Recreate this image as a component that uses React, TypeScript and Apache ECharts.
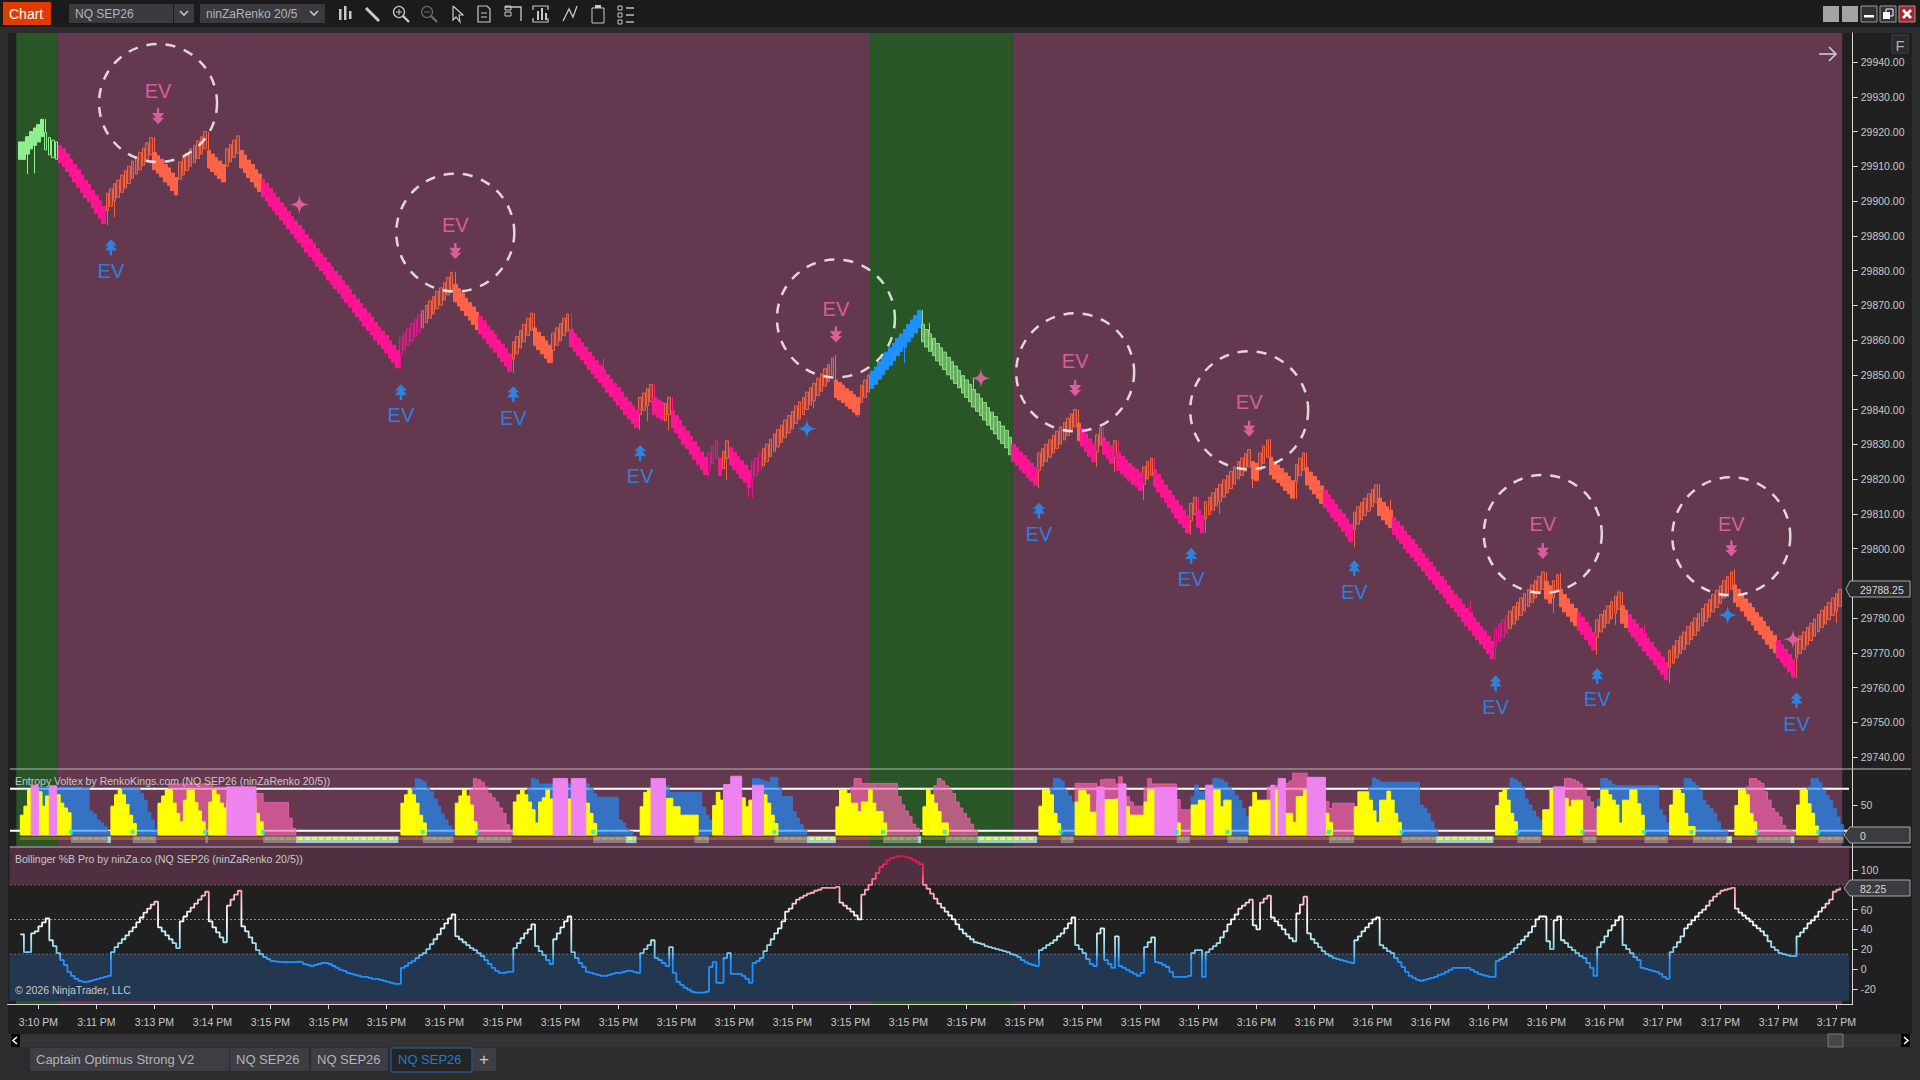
import React, { useEffect, useRef } from "react";
import * as echarts from "echarts";

const FONT = '"Liberation Sans"';
const PAD = 3;
const CAT_COUNT = 509;
const BAR = 3.625;
const priceBase = 29700;

const tickLabels = ["3:10 PM","3:11 PM","3:13 PM","3:14 PM","3:15 PM","3:15 PM","3:15 PM","3:15 PM","3:15 PM","3:15 PM","3:15 PM","3:15 PM","3:15 PM","3:15 PM","3:15 PM","3:15 PM","3:15 PM","3:15 PM","3:15 PM","3:15 PM","3:15 PM","3:16 PM","3:16 PM","3:16 PM","3:16 PM","3:16 PM","3:16 PM","3:16 PM","3:17 PM","3:17 PM","3:17 PM","3:17 PM"];
const priceTicks = [29740,29750,29760,29770,29780,29790,29800,29810,29820,29830,29840,29850,29860,29870,29880,29890,29900,29910,29920,29930,29940];
// 29790 sits under the last-price tag, so its label is not shown
const priceLabels = [29740,29750,29760,29770,29780,29800,29810,29820,29830,29840,29850,29860,29870,29880,29890,29900,29910,29920,29930,29940];

// Closing price of every bar, above priceBase
const closes = [
217,217,218.5,220,221,222,223.5, 214.75,213.25,212.5,212,
211,210,208.5,207,205.5,204,202.5,201,199.75,198,196.5,195,193.5,
202.25,203.5,205,206,207.5,208.75,210,211.5,212.75,214,215.25,216.75,218.25,
209,208,207,205.5,204.5,203,201.75, 211.25,212.5,213.75,215,216,217.25,218.5,220,
209.5,208.5,207.5,206.5,205.5, 215,216.25,217.5,218.75, 209.5,208.25,206.75,205.5,204,202.75,
201.25,200,198.5,197.25,196,194.5,193.25,192,190.5,189.25,188,186.75,185.25,184,182.75,181.25,180,178.75,177.25,176,174.75,173.5,172,170.75,169.5,168,166.75,165.5,164,162.75,161.5,160,158.75,157.5,156.25,154.75,153.5,152,
160.75,162,163.5,164.75,166,167.25,168.5,170,171.25,172.5,174,175,176.5,178,179.5,
171,169.75,168.5,167,165.75,164.5,163,161.75,160.5,159,157.75,156.5,155,153.75,152.5,151,
159.5,161,162.75,164.5,166.25,167.75, 158.5,157.25,156,154.75,153.5, 162,163.5,164.75,166.25,167.5,
158,156.75,155.5,154.25,153,151.5,150.25,149,147.75,146.5,145,143.75,142.5,141.25,140,138.5,137.25,136,134.75,
143.5,144.75,146,147.25, 138.5,137.75,137, 141.75,143.5,
134.75,133.25,131.75,130,128.75,127.25,125.75,124.25,122.75,121.25,
127.5,129.5,131, 121, 128,131, 124,122.75,121.5,120.25,119,117.5,
125,126,127.5,128.75,130,131.5,133,134.25,135.5,137,138.25,139.5,141,142.25,143.5,145,146.25,147.5,149,150.25,151.75,153,154.75,
143.5,142.75,142,141,140.25,139.25,138.5, 147,148.5,150,
151,152.25,153.75,155,156.5,157.75,159,160.5,161.75,163,164.5,165.75,167,168.5,
159.5,158,156.75,155.5,154,152.75,151.5,150,148.75,147.5,146.25,144.75,143.5,142.25,140.75,139.5,138.25,137,135.5,134.25,133,131.5,130.25,129,127,
125,124,122.75,121.75,120.5,119.5,118.25,
127.5,128.75,130,131.25,132.5,133.75,135,136.25,137.5,138.75,140,
131,129.5,128,126.5,125, 132.75,134.75, 127,125.75,124.5, 131,
122.5,121.5,120.5,119.5,118.5,117.75,116.75, 123.5,125,126,
117.75,116.25,114.75,113.25,111.75,110.25,108.75,107.25,106,104.5, 113,114.75, 106,104.5,
113.5,114.75,116,117.25,118.5,119.75,121,122.25,123.5,125,126,127.25,128.5, 120,119.5, 127.5,129.5,131.25,
121.25,120,119,118,116.75,115.75,114.5, 124.25,126,127.5,
118.25,117,115.75,114.5,113,111.75,110.5,109,107.75,106.25,105,103.5,102,
110.5,112,113.25,114.5,115.75,117,118.25, 109.5,108.25,107,106,
104,102.75,101.5,100,98.75,97.5,96.25,95,93.5,92.25,91,89.75,88.25,87,85.75,84.25,83,81.75,80.5,79,77.75,76.5,75,73.75,72.5,71.25,69.75,68.25,
77,78.25,79.5,80.75,82,83.25,84.5,85.75,87,88.25,89.5,90.75,92,93.25, 85.5,84.25, 90.75,92.5,
83.25,81.75,80.5,79,77.75,76.5,75.25,73.75,72.25,70.75, 79.5,81,82.25,83.5,84.75,86.25,87.5,
78.5,77.25,76,74.5,73.25,72,70.5,69.25,68,66.5,65.25,63.75,62.25,
70.75,72,73.5,74.75,76,77.5,78.75,80,81.25,82.75,84,85.25,86.75,88,89.25,90.75,92,93.25,
84.5,83.25,82,80.5,79.25,78,76.5,75.25,74,72.5,71.25,70,68.5,67.25,66,64.5,63,
73.5,74.75,76,77.25,78.5,79.75,81,82.25,83.25,84.5,85.75,87,88.25,
];
const bodySize = 5;

// [first bar, kind]
const barKinds: [number, string][] = [[0,"greenUp"],[7,"greenHollow"],[11,"pink"],[24,"orangeHollow"],[37,"orange"],[44,"orangeHollow"],[52,"orange"],[57,"orangeHollow"],[61,"orange"],[67,"pink"],[105,"pinkHollow"],[111,"orangeHollow"],[120,"orange"],[127,"pink"],[136,"orangeHollow"],[142,"orange"],[147,"orangeHollow"],[152,"pink"],[171,"orangeHollow"],[175,"pink"],[178,"orangeHollow"],[180,"pink"],[190,"pinkHollow"],[193,"pink"],[194,"orangeHollow"],[196,"pink"],[202,"pinkHollow"],[205,"orangeHollow"],[225,"orange"],[232,"orangeHollow"],[235,"blue"],[249,"greenDown"],[274,"pink"],[281,"orangeHollow"],[292,"orange"],[293,"pink"],[297,"orangeHollow"],[299,"pink"],[302,"orangeHollow"],[303,"pink"],[310,"orangeHollow"],[313,"pink"],[323,"orangeHollow"],[325,"pink"],[327,"orangeHollow"],[340,"orange"],[342,"orangeHollow"],[345,"orange"],[352,"orangeHollow"],[355,"orange"],[360,"pink"],[368,"orangeHollow"],[375,"orange"],[379,"pink"],[407,"pinkHollow"],[411,"orangeHollow"],[421,"orange"],[423,"orangeHollow"],[425,"orange"],[430,"pink"],[435,"orangeHollow"],[442,"orange"],[444,"pink"],[455,"orangeHollow"],[473,"orange"],[485,"pink"],[490,"orangeHollow"]];

// [bar, wick end, above priceBase]
const highWicks: [number, number][] = [[7,223.6],[37,218.4],[52,219.9],[60,218.8],[120,179.6],[142,167.8],[152,167.7],[161,154.8],[175,147.3],[180,143.6],[225,155.7],[249,168.6],[251,164.9],[263,149],[292,140],[299,135],[303,131],[313,126],[325,114.8],[345,131.5],[355,127.5],[375,118.6],[378,114],[400,84.9],[421,93.2],[425,93],[442,87.5],[448,78],[473,94]];
const lowWicks: [number, number][] = [[2,207.8],[4,208],[24,193],[26,195.4],[105,151.7],[136,150.5],[147,153.4],[171,134],[173,136.7],[179,134],[190,120.6],[195,119.7],[201,114.8],[202,114.5],[219,140.4],[231,137.8],[244,153.4],[281,117.4],[297,123.4],[302,122],[310,114],[323,103.9],[327,104.5],[331,110],[340,117.4],[352,114.2],[368,100.4],[407,67.9],[423,81.4],[435,69.4],[440,78],[455,61.3],[490,62.7],[501,78.6]];

// EV events
const evHighBars = [38,120,225,291,339,420,472];
const evCirclePrice = [29928.2,29890.9,29866.2,29850.7,29839.8,29804.2,29803.5];
const evHighText = [29931.8,29893,29869,29853.9,29842.3,29807,29807];
const evHighArrow = [29924.4,29885.6,29861.6,29846.1,29834.5,29799.3,29800];
const evLowBars = [25,105,136,171,281,323,368,407,435,490];
const evLowArrow = [29886.7,29845,29844.4,29827.5,29810.9,29797.9,29794.3,29761.2,29763.3,29756.3];
const evLowText = [29880,29838.4,29837.7,29820.8,29804.2,29791.2,29787.6,29754.5,29756.6,29749.6];
const pinkStars: [number, number][] = [[77,29899],[265,29849],[489,29773.9]];
const blueStars: [number, number][] = [[217,29834.5],[471,29780.9]];

// Background regimes in bar units [from, to, kind]
const regimes: [number, number, string][] = [[-1.1,10.2,"green"],[10.2,234.4,"plum"],[234.4,273.8,"green"],[273.8,502.6,"plum"]];

// Entropy Voltex: [first bar, values]
const yellowRuns: [number, number[]][] = [
[0,[33,48,76,76,76,72,48,65,65,65,67,53,45,37]],[25,[48,67,76,67,51,33,19]],[38,[53,65,76,76,53,36,22,58,75,75,54,40,22]],[52,[55,75,67,53,45,60,60,60,60,60,60,60,60,36,22]],[105,[53,67,76,67,53,33,20]],[120,[53,65,76,65,50,22]],
[136,[55,67,75,67,55,42,20,55,62,75,60,60,60,60,60,60,60,60,60,60,53,36,19]],[171,[47,71,75,60,60,60,60,61,61,47,47,33,33,33,33,33]],[191,[49,71,58,58,58,58,58,58,62,47,58,60,60,60,67,53,33,19]],[225,[47,75,75,69,53,53,39,55,55,75,53,39,39,20]],[249,[47,75,67,53,39,20,20]],[281,[48,75,75,67,36,19]],
[291,[55,74,74,67,38,38,60,60,59,59,59,60,60,60,47,33,33,33,33,55,75,75,60,60,60,60,60,60,20]],[323,[50,50,58,58,58,58,75,75,47,58,58]],[339,[47,71,58,58,58,58,58,75,60,60,36,36,21,64,64,75,60,60,60,60,60,36,21]],[368,[47,72,72,72,58,40,21,58,58,73,58,36,21]],[407,[49,71,75,58,36,22]],[420,[42,42,75,60,60,60,61,47,58,58,58]],[435,[47,75,75,67,58,50,20,58,58,75,75,52,33]],[455,[50,75,75,69,36,14,14]],[473,[49,75,75,67,36,22]],[490,[50,75,75,52,36,15]],
];
const violetRuns: [number, number[]][] = [[3,[83,83]],[8,[82,82]],[57,[80,80,80,80,80,80,80,80]],[147,[94,94,94,94]],[152,[94,94,94,94]],[174,[94,94,94,94]],[194,[84,84,98,98,98]],[202,[83,83,83]],[297,[80,80]],[303,[85,85]],[313,[79,79,79,79,79,79]],[327,[83,83]],[345,[83]],[347,[94,94]],[355,[96,96,96,96,96]],[423,[80,80,80]]];
const blueRuns: [number, number[]][] = [
[5,[80,80,80,80,80,80,80,80,80,80,80,80,78,78,40,35,25,20,14,6]],[28,[78,78,78,78,78,69,58,38,25,8]],[108,[78,94,92,88,78,72,60,48,35,25,15,8]],[140,[78,94,92,85,85,85,85,85,85,85,85,85,85,85,85,85,85,78,69,63,63,63,63,63,63,25,20,10,6]],[178,[82,71,71,71,71,71,71,71,71,71,46,33,25]],[202,[94,94,92,90,88,96,96,78,64,64,64,39,28,17,8]],[284,[78,94,94,90,75,65,55]],[323,[64,83,72,72,72,72,94,94,92,88,80,74,66,57,44,30,10]],[372,[80,95,92,88,88,88,88,88,88,88,88,88,88,88,50,45,36,22,10]],[410,[75,95,92,88,80,60,50,40,30,25,12]],[435,[60,94,94,90,84,82,82,82,82,82,82,82,82,82,82,82,82,42,32,20]],[458,[76,94,94,88,82,75,58,50,44,36,22,9,7]],[493,[80,94,94,88,75,66,58,44,30,17]],
];
const pinkRuns: [number, number[]][] = [
[38,[50,55,60,85,85,85,85,85,85,85,85,85,85,85,85,80,80,80,80,80,80,80,80,80,80,80,80,69,69,54,54,54,54,54,54,54,28,11]],[124,[75,94,92,88,80,69,62,55,45,36,17,8]],[229,[79,94,94,86,86,86,86,86,86,86,86,86,86,64,50,40,31,18,11]],[252,[82,94,90,82,76,69,55,45,36,28,18,8]],[291,[86,86,86,86,86,86,80,92,93,93,93,85,97,85,64,55,48,48,48,78,94,85,85,85,85,85,85,85,59,42,42,42]],[344,[80,82,82,86,86,86,90,103,103,103,103,96,96,96,96,96,56,44,53,53,53,53,53,53]],[422,[75,80,80,80,94,94,92,89,85,77,64,55,44]],[476,[80,94,94,90,86,72,58,44,37,30,16,9,7,5]],
];
const cyanBars = [14,31,51,67,111,126,158,208,238,255,287,319,333,361,381,413,431,448,461,479,496];
const busyRuns: [number, number][] = [[14,24],[31,37.5],[51,51.8],[67,76],[111,119.5],[126,135.5],[158,167],[186,190],[208,217],[238,247.5],[255.2,264],[287,290.6],[319,322.6],[333,338.7],[361,368],[381,390.5],[413,419.5],[431,434.8],[448,454.5],[461.4,470.6],[479,488.3],[496,503]];
const idleRuns: [number, number][] = [[24,25],[76,104.3],[167,170],[217,225],[247.5,248.5],[264,280.5],[390.5,406.4],[470.6,472.2],[488.3,489.4]];

// Bollinger %B, every bar
const percentB = [
35,17,17,36,38,43,47,51,29,23,16,9,4,-3,-7,-10,-12,-13,-13,-12,-11,-10,-9,-8,-7,
17,22,26,30,34,38,42,47,52,57,61,65,68, 42,38,34,30,26,21, 48,53,58,62,66,70,74,78, 48,42,37,32,27, 64,70,75,79,
43,38,32,26,19,15,12,10,8,7.5,7,7,7,7,7,7.5,7,5,4,3,4,5,6,6,5,3,1,-1,-2,-4,-5,-6,-7,-8,-8,-9,-10,-10,-11,-12,-13,-14,-15,-15,
1,3,6,8,11,14,16,20,25,30,35,41,46,51,55, 33,30,27,24,21,19,16,13,9,5,1,-2,-4,-4,-3,-3,
21,26,31,36,40,45, 23,18,14,9,5, 30,36,42,48,53,
17,11,6,2,-3,-4,-5,-6,-7,-7,-6,-5,-4,-4,-3,-2,-2,-3,-4, 16,20,24,29, 11,9,6,3, 22,
-4,-13,-16,-19,-21,-23,-24,-24,-24,-23, 2,7,-14,-14, 11,16, -5,-5,-5,-7,-10,-14,
6,8,11,18,24,30,36,41,48,58,61,66,70,72,74,76,77,79,80,82,82,82,82,83, 67,64,61,58,54,50,
75,80,85,91,97,103,106,110,112,113,114,114,113,112,110,108,106,
85,81,76,71,66,62,58,54,50,45,40,36,33,30,27,26,25,23,22,21,20,19,18,17,15,14,12,9,7,5,4,3,
19,21,24,26,29,33,36,41,46,52, 24,20,16,10,5,3, 36,41, 9,5,1, 33, 3,1,-1,-3,-5,-7,-4, 22,27,32,
7,6,4,2,-3,-8,-8,-8,-8,-7, 16,19,19,-8, 17,20,23,26,32,38,45,50,55,61,64,67,70, 44,40, 67,71,74,
52,48,44,40,35,31,28, 56,65,73, 36,30,26,22,18,15,13,11,10,9,8,7,6,
29,33,38,42,46,50,52, 24,21,18,16,11,7,2,-3,-7,-9,-11,-12,-11,-10,-9,-8,-6,-5,-3,-1,1,1,1,1,1,-1,-3,-5,-6,-7,-8,-8,
8,10,12,15,17,21,25,29,33,37,43,50,53,53, 28,20, 49,53, 29,26,22,19,16,13,11,6,1,-7,
22,27,33,39,44,49,53, 24,20,16,12,9,1,0,-1,-2,-3,-5,-8,-10,
17,22,27,33,41,45,49,53,57,60,64,69,73,76,79,80,81,82, 61,57,54,51,48,44,41,38,34,28,22,19,16,15,14,13,13,
33,37,41,46,49,53,58,62,66,70,78,80,82.25,
];
const bLevels: [number, string][] = [[85,"#8a5a70"],[50,"#c8902c"],[15,"#6a6a6a"]];
const voltexLevels = [77, 7];
const bZones: [number, number, string][] = [[85,124,"#503040"],[15,85,"#202020"],[-32,15,"#233750"]];

const KINDS: Record<string, { up: boolean; fill: string; line: string; hollow: boolean }> = {
  greenUp: { up: true, fill: "#90ee90", line: "#90ee90", hollow: false },
  greenHollow: { up: false, fill: "transparent", line: "#90ee90", hollow: true },
  greenDown: { up: false, fill: "#68ac60", line: "#8fdc85", hollow: false },
  pink: { up: false, fill: "#ff1493", line: "#ff1493", hollow: false },
  pinkHollow: { up: true, fill: "rgba(255,20,147,0.22)", line: "#e0188c", hollow: true },
  orange: { up: false, fill: "#ff6347", line: "#ff6347", hollow: false },
  orangeHollow: { up: true, fill: "rgba(255,99,71,0.28)", line: "#f0603f", hollow: true },
  blue: { up: true, fill: "#1e90ff", line: "#1e90ff", hollow: false },
};
const kindAt = (i: number) => {
  let k = barKinds[0][1];
  for (const [s, name] of barKinds) if (s <= i) k = name;
  return KINDS[k];
};

const candleData = closes.map((c, i) => {
  const kind = kindAt(i);
  const open = kind.up ? c - bodySize : c + bodySize;
  const hw = highWicks.find((w) => w[0] === i);
  const lw = lowWicks.find((w) => w[0] === i);
  const high = Math.max(open, c, hw ? hw[1] : -1e9);
  const low = Math.min(open, c, lw ? lw[1] : 1e9);
  return {
    hollow: kind.hollow,
    value: [i + PAD, open + priceBase, c + priceBase, low + priceBase, high + priceBase],
    itemStyle: { color: kind.fill, color0: kind.fill, borderColor: kind.line, borderColor0: kind.line, borderWidth: 1 },
  };
});

const categories = Array.from({ length: CAT_COUNT }, (_, k) => (k >= 8 && (k - 8) % 16 === 0 ? tickLabels[(k - 8) / 16] ?? "" : ""));
const isTick = (k: number) => k >= 8 && (k - 8) % 16 === 0;

const xAt = (api: any, i: number) => api.coord([0, 0])[0] + (i + PAD) * api.size([1, 0])[0];

const customOn = (g: number, z: number, items: any[], draw: (it: any, api: any) => any) => ({
  type: "custom", xAxisIndex: g, yAxisIndex: g, z, silent: true, clip: false,
  data: items.map((_, k) => [k, 0]),
  renderItem: (p: any, api: any) => draw(items[p.dataIndex], api),
});

const REGIME: Record<string, string> = { green: "#295627", plum: "#64384f" };
const regimeRect = (lo: number, hi: number) => (r: any, api: any) => {
  const x0 = xAt(api, r[0]), x1 = xAt(api, r[1]);
  const y0 = api.coord([0, hi])[1], y1 = api.coord([0, lo])[1];
  return { type: "rect", shape: { x: x0, y: y0, width: x1 - x0, height: y1 - y0 }, style: { fill: REGIME[r[2]] } };
};
const runPolygon = (fill: string, stroke: string) => (run: any, api: any) => {
  const [start, vals] = run;
  const b = api.size([1, 0])[0];
  const base = api.coord([0, 0])[1];
  const pts: number[][] = [[xAt(api, start), base]];
  vals.forEach((v: number, j: number) => {
    const xl = xAt(api, start + j);
    const y = api.coord([0, v])[1];
    pts.push([xl, y], [xl + b, y]);
  });
  pts.push([xAt(api, start + vals.length), base]);
  return { type: "polygon", shape: { points: pts }, style: { fill, stroke, lineWidth: 1 } };
};
const stripCell = (fill: string, dash: string, w: number) => (r: any, api: any) => {
  const x0 = xAt(api, r[0]), x1 = xAt(api, r[1]);
  const top = api.coord([0, -2])[1], bot = api.coord([0, -13.5])[1];
  const mid = api.coord([0, -6])[1];
  return {
    type: "group",
    children: [
      { type: "rect", shape: { x: x0, y: top, width: x1 - x0, height: bot - top }, style: { fill } },
      { type: "line", shape: { x1: x0 + 2, y1: mid, x2: x1 - 1, y2: mid }, style: { stroke: dash, lineWidth: w, lineDash: [5, 2] } },
    ],
  };
};

const starPath = "path://M0,-10C1,-3 3,-1 10,0C3,1 1,3 0,10C-1,3 -3,1 -10,0C-3,-1 -1,-3 0,-10Z";
const upArrows = "path://M5,0L10,6H7L10,10.5H6V15H4V10.5H0L3,6H0Z";
const downArrows = "path://M5,15L10,9H7L10,4.5H6V0H4V4.5H0L3,9H0Z";

const text = (x: number, y: number, t: string, size: number, fill: string, align = "left") => ({
  type: "text", x, y, z: 100, silent: true,
  style: { text: t, fill, font: `${size}px ${FONT}`, textAlign: align, textVerticalAlign: "middle" },
});
const rect = (x: number, y: number, w: number, h: number, fill: string, z = 99, stroke?: string) => ({
  type: "rect", z, silent: true, shape: { x, y, width: w, height: h }, style: { fill, stroke, lineWidth: stroke ? 1 : 0 },
});
const seg = (pts: number[][], stroke = "#c4c4c4", w = 1.3) => ({
  type: "polyline", z: 100, silent: true, shape: { points: pts }, style: { stroke, lineWidth: w, fill: "none" },
});
const tag = (y: number, t: string, fill: string, tip: number) => [
  { type: "polygon", z: 100, silent: true, shape: { points: [[tip, y], [1850, y - 8], [1910, y - 8], [1910, y + 8], [1850, y + 8]] }, style: { fill, stroke: "#a8a8a8", lineWidth: 1 } },
  text(1860, y + 0.5, t, 10.5, "#d8d8d8"),
];

const toolbarIcons = (): any[] => {
  const c = "#c8c8c8";
  return [
    rect(339, 9, 2.5, 11, c), rect(344, 6, 2.5, 14, c), rect(349, 11, 2.5, 8, c),
    seg([[366, 8], [379, 21]], c, 3),
    { type: "circle", z: 100, silent: true, shape: { cx: 399, cy: 12, r: 5.5 }, style: { fill: "none", stroke: c, lineWidth: 1.3 } }, seg([[403, 16], [409, 22]], c, 2.4), seg([[396, 12], [402, 12]], c, 1), seg([[399, 9], [399, 15]], c, 1),
    { type: "circle", z: 100, silent: true, shape: { cx: 427, cy: 12, r: 5.5 }, style: { fill: "none", stroke: "#6a6a6a", lineWidth: 1.3 } }, seg([[431, 16], [437, 22]], "#6a6a6a", 2.4), seg([[424, 12], [430, 12]], "#6a6a6a", 1),
    seg([[453, 6], [453, 20], [456, 17], [460, 22], [459, 15], [463, 15], [453, 6]], c, 1.2),
    seg([[478, 6], [487, 6], [490, 9], [490, 22], [478, 22], [478, 6]], c, 1.2), seg([[481, 13], [487, 13]], c, 1), seg([[481, 17], [487, 17]], c, 1),
    seg([[505, 7], [521, 7], [521, 21]], c, 1.3), rect(505, 6, 6, 4, "none", 100, c), rect(505, 12, 6, 4, "none", 100, c),
    seg([[533, 10], [533, 6], [548, 6], [548, 10]], c, 1.2), seg([[533, 18], [533, 22], [548, 22], [548, 18]], c, 1.2), rect(537, 11, 2, 9, c), rect(541, 8, 2, 12, c), rect(545, 13, 2, 7, c),
    seg([[563, 21], [569, 9], [573, 17], [577, 6]], c, 1.3),
    rect(592, 8, 12, 15, "none", 100, c), rect(595, 5, 6, 3, c),
    rect(618, 6, 4, 4, "none", 100, c), rect(618, 13, 4, 4, "none", 100, c), rect(618, 20, 4, 4, "none", 100, c), seg([[626, 8], [634, 8]], c, 1.4), seg([[626, 15], [634, 15]], c, 1.4), seg([[626, 22], [634, 22]], c, 1.4),
  ];
};

const chrome = (): any[] => [
  rect(0, 0, 1920, 1080, "#2c2c2e", -100),
  rect(0, 0, 1920, 27, "#1b1b1b", -99),
  rect(8, 33, 1904, 1001, "#202020", -98),
  rect(3, 2, 48, 23, "#e03c00"),
  text(9, 14, "Chart", 14, "#ffffff"),
  rect(69, 4, 104, 19, "#3a3a40"),
  text(75, 14, "NQ SEP26", 12, "#b4b4b4"),
  rect(174, 4, 20, 19, "#3a3a40"),
  seg([[180, 11], [184, 15], [188, 11]], "#c4c4c4", 1.6),
  rect(200, 4, 125, 19, "#3a3a40"),
  text(206, 14, "ninZaRenko 20/5", 12, "#b4b4b4"),
  seg([[310, 11], [314, 15], [318, 11]], "#c4c4c4", 1.6),
  ...toolbarIcons(),
  rect(1823, 6, 16, 16, "#a4a4a4"), rect(1842, 6, 16, 16, "#a4a4a4"),
  rect(1861, 6, 16, 16, "#333333", 99, "#9a9a9a"), rect(1864, 15, 10, 2.5, "#ffffff"),
  rect(1880, 6, 16, 16, "#333333", 99, "#9a9a9a"), rect(1886, 9, 7, 7, "none", 100, "#ffffff"), rect(1883, 12, 7, 7, "#ffffff", 100),
  rect(1899, 6, 16, 16, "#a8252f", 99, "#9a9a9a"), seg([[1903, 10], [1911, 18]], "#ffffff", 2.6), seg([[1911, 10], [1903, 18]], "#ffffff", 2.6),
  rect(1892, 35, 16, 18, "#2a2a2c", 99, "#3e3e3e"), text(1900, 45, "F", 15, "#a8b0b4", "center"),
  seg([[1819, 54], [1836, 54]], "#d0d0d0", 1.6), seg([[1829, 47], [1836, 54], [1829, 61]], "#d0d0d0", 1.6),
  seg([[10, 769], [1911, 769]], "#b8b8b8", 1), seg([[10, 847], [1911, 847]], "#b8b8b8", 1),
  text(15, 781, "Entropy Voltex by RenkoKings.com (NQ SEP26 (ninZaRenko 20/5))", 10.5, "#c8c8c8"),
  text(15, 859, "Bollinger %B Pro by ninZa.co (NQ SEP26 (ninZaRenko 20/5))", 10.5, "#c8c8c8"),
  text(15, 990, "© 2026 NinjaTrader, LLC", 10.5, "#c8c8c8"),
  ...tag(589, "29788.25", "#2a2a2c", 1846),
  ...tag(835, "0", "#3c3c40", 1844),
  ...tag(888, "82.25", "#3c3c40", 1844),
  rect(10, 1034, 1901, 13, "#343436"),
  rect(11, 1034, 9, 13, "#000000"), seg([[17, 1037], [13, 1040.5], [17, 1044]], "#ffffff", 1.6),
  rect(1901, 1034, 9, 13, "#000000"), seg([[1904, 1037], [1908, 1040.5], [1904, 1044]], "#ffffff", 1.6),
  rect(1828, 1034, 15, 13, "#474749", 99, "#7a7a7a"),
  rect(30, 1048, 199, 23, "#3d3d43"), text(36, 1059.5, "Captain Optimus Strong V2", 13, "#b4b4b4"),
  rect(230, 1048, 79, 23, "#3d3d43"), text(236, 1059.5, "NQ SEP26", 13, "#b4b4b4"),
  rect(311, 1048, 77, 23, "#3d3d43"), text(317, 1059.5, "NQ SEP26", 13, "#b4b4b4"),
  rect(391, 1048, 81, 24, "#242426", 99, "#1a6cb0"), text(398, 1059.5, "NQ SEP26", 13, "#1e7cc8"),
  rect(473, 1048, 23, 23, "#3d3d43"), text(484, 1059.5, "+", 17, "#c8c8c8", "center"),
];

const gridBase = { left: 7.6, width: CAT_COUNT * BAR };
const axisTxt = { color: "#c8c8c8", fontFamily: FONT, fontSize: 10.5 };
const yAxisBase = (min: number, max: number, ticks: number[], labels: number[], fmt?: (v: number) => string) => ({
  type: "value", position: "right", min, max, splitLine: { show: false },
  axisLine: { show: true, onZero: false, lineStyle: { color: "#d8d8d8", width: 1 } },
  axisTick: { show: true, length: 5, lineStyle: { color: "#d8d8d8" }, customValues: ticks },
  axisLabel: { ...axisTxt, margin: 8, customValues: labels, formatter: fmt ?? ((v: number) => String(v)) },
});
const hiddenX = (g: number) => ({ type: "category", gridIndex: g, data: categories, show: false });
const candleSeries = (hollow: boolean, barWidth: number) => ({
  type: "candlestick", xAxisIndex: 0, yAxisIndex: 0, z: hollow ? 3 : 4, barWidth, silent: true, clip: false,
  encode: { x: 0, y: [1, 2, 3, 4] },
  data: candleData.filter((d) => d.hollow === hollow).map((d) => ({ value: d.value, itemStyle: d.itemStyle })),
});
const bAxis = [100, 60, 40, 20, 0, -20];

const option: any = {
  animation: false,
  backgroundColor: "#2c2c2e",
  grid: [
    { ...gridBase, top: 33, height: 736 },
    { ...gridBase, top: 769, height: 78 },
    { ...gridBase, top: 847, height: 157 },
  ],
  xAxis: [hiddenX(0), hiddenX(1), {
    type: "category", gridIndex: 2, data: categories,
    axisLine: { show: true, onZero: false, lineStyle: { color: "#d8d8d8" } },
    axisTick: { show: true, alignWithLabel: true, length: 5, interval: (k: number) => isTick(k), lineStyle: { color: "#d8d8d8" } },
    axisLabel: { ...axisTxt, interval: (k: number) => isTick(k), margin: 12 },
  }],
  yAxis: [
    { ...yAxisBase(29736.55, 29948.35, priceTicks, priceLabels, (v) => v.toFixed(2)), gridIndex: 0 },
    { ...yAxisBase(-20, 110, [50], [50]), gridIndex: 1 },
    { ...yAxisBase(-35.4, 123.2, bAxis, bAxis), gridIndex: 2 },
  ],
  graphic: { elements: chrome() },
  series: [
    customOn(0, 1, regimes, regimeRect(29736.55, 29948.35)),
    customOn(1, 1, regimes, regimeRect(-20, 110)),
    customOn(2, 1, bZones, (zn, api) => {
      const x0 = xAt(api, -PAD + 2.2), x1 = xAt(api, 504.5);
      const y0 = api.coord([0, zn[1]])[1], y1 = api.coord([0, zn[0]])[1];
      return { type: "rect", shape: { x: x0 - 8, y: y0, width: x1 - x0 + 8, height: y1 - y0 }, style: { fill: zn[2] } };
    }),
    customOn(2, 1, regimes, regimeRect(-35.4, -32)),
    customOn(2, 2, bLevels, (lv, api) => {
      const y = api.coord([0, lv[0]])[1];
      return { type: "line", shape: { x1: 10, y1: y, x2: xAt(api, 504.5), y2: y }, style: { stroke: lv[1], lineWidth: 1, lineDash: [2, 2] } };
    }),
    candleSeries(true, 3),
    candleSeries(false, 4),
    customOn(1, 2, voltexLevels, (v, api) => {
      const y = api.coord([0, v])[1];
      return { type: "line", shape: { x1: 10, y1: y, x2: 1849, y2: y }, style: { stroke: "#ffffff", lineWidth: 2 } };
    }),
    customOn(1, 2, [0], (_, api) => {
      const y = api.coord([0, -6])[1];
      return { type: "line", shape: { x1: 20, y1: y, x2: xAt(api, 502.6), y2: y }, style: { stroke: "rgba(190,120,40,0.55)", lineWidth: 3 } };
    }),
    customOn(1, 3, busyRuns, stripCell("rgba(165,165,165,0.62)", "#a8a860", 2.4)),
    customOn(1, 3, idleRuns, stripCell("rgba(172,226,236,0.85)", "#ffff00", 3)),
    customOn(1, 4, pinkRuns, runPolygon("rgba(253,101,176,0.66)", "rgba(235,95,170,0.9)")),
    customOn(1, 4, blueRuns, runPolygon("rgba(30,144,255,0.66)", "rgba(50,120,210,0.9)")),
    customOn(1, 5, yellowRuns, runPolygon("#ffff00", "#ffff00")),
    customOn(1, 6, violetRuns, runPolygon("#ee82ee", "#ee82ee")),
    {
      type: "scatter", xAxisIndex: 1, yAxisIndex: 1, z: 7, silent: true, symbol: "rect", symbolSize: 4,
      itemStyle: { color: "#00e8ff" }, data: cyanBars.map((b) => [b + PAD, 5]),
    },
    {
      type: "line", xAxisIndex: 2, yAxisIndex: 2, z: 5, silent: true, step: "end", showSymbol: false, symbol: "none",
      lineStyle: {
        width: 1.8,
        color: new echarts.graphic.LinearGradient(0, 850, 0, 999, [
          { offset: 0.03, color: "#dc143c" }, { offset: 0.13, color: "#f02860" }, { offset: 0.23, color: "#f88aa0" },
          { offset: 0.33, color: "#ffc0cb" }, { offset: 0.47, color: "#ffffff" }, { offset: 0.6, color: "#b0e8f0" },
          { offset: 0.7, color: "#70c0f0" }, { offset: 0.75, color: "#1e90ff" }, { offset: 1, color: "#1e90ff" },
        ], true),
      },
      data: percentB.map((v, i) => [i + PAD, v]),
    },
    {
      type: "scatter", xAxisIndex: 0, yAxisIndex: 0, z: 8, silent: true, symbol: "circle", symbolSize: 118,
      itemStyle: { color: "transparent", borderColor: "#ffffff", borderWidth: 2.5, borderType: [10, 9] },
      data: evHighBars.map((b, j) => [b + PAD, evCirclePrice[j]]),
    },
    {
      type: "scatter", xAxisIndex: 0, yAxisIndex: 0, z: 9, silent: true, symbolSize: 1, itemStyle: { color: "transparent" },
      label: { show: true, position: "inside", formatter: "EV", color: "#f868b0", fontSize: 20, fontFamily: FONT },
      data: evHighBars.map((b, j) => [b + PAD, evHighText[j]]),
    },
    {
      type: "scatter", xAxisIndex: 0, yAxisIndex: 0, z: 9, silent: true, symbolSize: 1, itemStyle: { color: "transparent" },
      label: { show: true, position: "inside", formatter: "EV", color: "#2094ff", fontSize: 20, fontFamily: FONT },
      data: evLowBars.map((b, j) => [b + PAD, evLowText[j]]),
    },
    {
      type: "scatter", xAxisIndex: 0, yAxisIndex: 0, z: 9, silent: true, symbol: downArrows, symbolSize: [12, 16], itemStyle: { color: "#f868b0" },
      data: evHighBars.map((b, j) => [b + PAD, evHighArrow[j]]),
    },
    {
      type: "scatter", xAxisIndex: 0, yAxisIndex: 0, z: 9, silent: true, symbol: upArrows, symbolSize: [12, 16], itemStyle: { color: "#2094ff" },
      data: evLowBars.map((b, j) => [b + PAD, evLowArrow[j]]),
    },
    {
      type: "scatter", xAxisIndex: 0, yAxisIndex: 0, z: 9, silent: true, symbol: starPath, symbolSize: 19, itemStyle: { color: "#f868b0" },
      data: pinkStars.map(([b, p]) => [b + PAD, p]),
    },
    {
      type: "scatter", xAxisIndex: 0, yAxisIndex: 0, z: 9, silent: true, symbol: starPath, symbolSize: 19, itemStyle: { color: "#2094ff" },
      data: blueStars.map(([b, p]) => [b + PAD, p]),
    },
  ],
};

export default function App() {
  const ref = useRef<HTMLDivElement>(null);
  useEffect(() => {
    document.body.style.margin = "0";
    document.body.style.background = "#2c2c2e";
    document.documentElement.style.overflow = "hidden";
    const chart = echarts.init(ref.current!, undefined, { renderer: "svg" });
    chart.setOption(option);
    return () => chart.dispose();
  }, []);
  return <div ref={ref} style={{ width: 1920, height: 1080 }} />;
}
